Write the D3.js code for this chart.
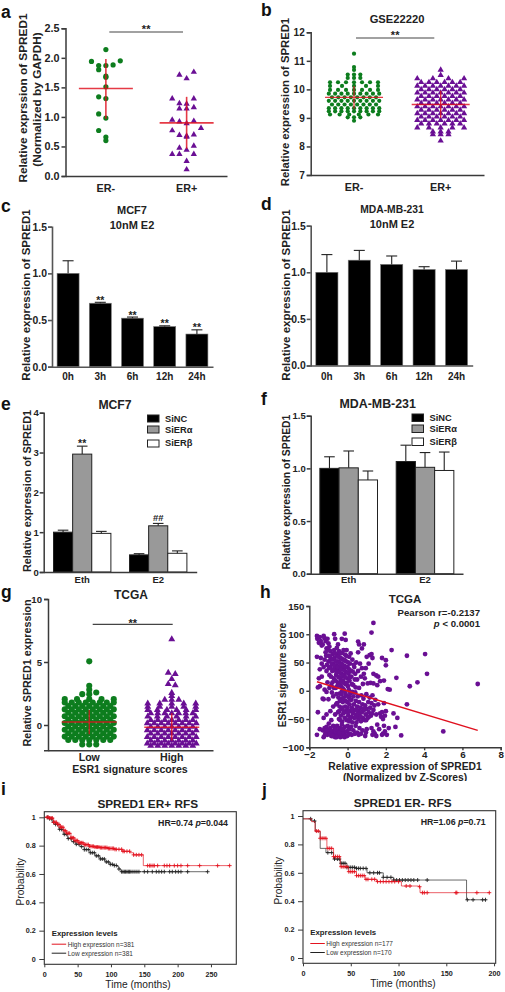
<!DOCTYPE html>
<html><head><meta charset="utf-8">
<script src="https://d3js.org/d3.v7.min.js"></script>
<style>html,body{margin:0;padding:0;background:#fff}svg{display:block}</style>
</head><body>
<svg id="c" width="505" height="992"></svg>
<script>
// ---------- data ----------
const erGroups = ["ER-", "ER+"];
const aNeg = [2.14,1.95,1.94,1.88,1.87,1.87,1.80,1.69,1.67,1.51,1.34,1.31,1.05,0.98,0.77,0.66,0.60];
const aPos = [1.76,1.71,1.65,1.31,1.31,1.23,1.22,1.16,1.14,1.14,0.95,0.93,0.92,0.89,0.81,0.77,0.70,0.69,0.68,0.66,0.51,0.475,0.44,0.37,0.37,0.37,0.25,0.11];
const aStats = [[1.48,0.97,1.98],[0.90,0.46,1.34]];
const bNegRows = [11.25,10.78,10.68,10.52,10.4,10.25,10.12,9.98,9.85,9.72,9.6,9.47,9.34,9.23,9.12,9.02,8.9];
const bNegCounts = [1,1,1,3,3,7,5,7,9,8,9,8,9,9,6,3,1];
const bPosRows = [10.68,10.5,10.38,10.25,10.12,10,9.88,9.76,9.64,9.52,9.4,9.28,9.16,9.04,8.92,8.8,8.66,8.52,8.42,8.2];
const bPosCounts = [1,1,4,6,7,6,7,6,7,6,7,6,7,6,7,6,5,3,3,1];
const bStats = [[9.72,9.32,10.12],[9.47,9.0,9.95]];
const hours = ["0h","3h","6h","12h","24h"];
const cValues = [1.0,0.68,0.52,0.43,0.35];
const cErrors = [0.135,0.01,0.012,0.008,0.045];
const cStars = ["","**","**","**","**"];
const dValues = [1.0,1.13,1.085,1.03,1.03];
const dErrors = [0.19,0.105,0.09,0.03,0.09];
const treatments = ["Eth","E2"];
const siSeries = ["SiNC","SiERα","SiERβ"];
const eValues = [[1.0,2.96,0.97],[0.43,1.16,0.47]];
const eErrors = [[0.05,0.2,0.05],[0.03,0.06,0.06]];
const fValues = [[1.0,1.005,0.89],[1.065,1.01,0.98]];
const fErrors = [[0.11,0.16,0.085],[0.155,0.14,0.175]];
const gGroups = ["Low","High"];
const gLowRows = [5.05,3.12,2.8,2.58,2.45,2.05,1.78,1.51,1.24,0.97,0.7,0.43,0.16,-0.11,-0.38,-0.65,-0.92,-1.19,-1.55];
const gLowCounts = [1,1,1,1,2,5,8,7,8,7,8,7,8,7,8,7,8,7,3];
const gHighRows = [6.8,4.15,4.05,3.65,3.25,3.15,2.55,2.3,2.0,1.7,1.45,1.2,0.94,0.67,0.4,0.13,-0.14,-0.41,-0.68,-0.95,-1.22,-1.46,-1.65];
const gHighCounts = [1,1,1,1,1,1,1,1,3,5,5,6,7,6,7,8,7,8,7,8,7,8,7];
const gStats = [[0.24,-0.74,1.2],[-0.18,-1.24,0.93]];
const hPoints = [[1.35,120],[1.25,103],[2.3,72],[3.1,62],[4.05,65],[4.15,30],[3.65,15],[3.25,8],[2.55,23],[6.8,12],[5.0,-72],[3.1,-24],[2.8,-79],[2.5,-64],[2.6,-48],[2.4,-40],[2.2,2],[2.1,3],[1.8,58],[2.0,54],[2.0,45],[1.9,18],[1.7,17],
[-1.6,97],[-1.58,92],[-1.5,85],[-1.45,95],[-1.4,88],[-1.35,80],[-1.3,82],[-1.25,97],[-1.2,93],[-1.15,88],[-1.1,75],[-1.05,92],[-1.0,84],[-0.95,78],[-0.9,70],[-0.7,100],[-0.65,92],[-0.5,82],[-0.3,92],[-0.15,101],[-0.1,90],[0.55,87],[0.6,82],[0.75,75],[0.85,82],[0.55,68],[1.0,60],[1.15,63],[1.25,65],[1.3,58],[1.1,48],[0.95,40],[1.35,30],[1.5,27],[1.6,25],[1.55,10],[1.2,14],[1.35,13],[1.05,13],
[-1.6,60],[-1.4,58],[-1.35,48],[-1.45,38],[-1.5,22],[-1.45,8],[-1.55,6],[-1.35,25],[-1.25,42],[-1.2,55],[-1.15,68],[-1.1,35],[-1.05,15],[-1.0,52],[-0.98,62],[-0.95,28],[-0.9,42],[-0.88,55],[-0.85,10],[-0.82,-3],[-0.8,35],[-0.78,65],[-0.75,48],[-0.72,22],[-0.7,72],[-0.68,58],[-0.65,38],[-0.62,5],[-0.6,28],[-0.58,45],[-0.55,64],[-0.52,15],[-0.5,52],[-0.48,35],[-0.45,70],[-0.42,-5],[-0.4,42],[-0.38,22],[-0.36,58],[-0.34,8],[-0.32,30],[-0.3,48],[-0.28,67],[-0.26,38],[-0.24,18],[-0.22,55],[-0.2,2],[-0.18,28],[-0.16,44],[-0.14,64],[-0.12,12],[-0.1,34],[-0.08,52],[-0.05,72],[-0.02,22],[0.0,42],[0.02,8],[0.05,30],[0.08,60],[0.1,18],[0.12,48],[0.15,-3],[0.18,35],[0.2,25],[0.25,55],[0.3,10],[0.35,42],[0.4,30],[0.45,50],[0.5,20],[0.55,35],[0.6,5],[0.65,48],[0.7,25],[0.75,40],[0.8,12],[0.85,30],[0.9,22],[-0.95,5],[-1.1,-2],[-1.2,2],[-1.0,-15],[-0.75,-10],[-1.25,-15],[-1.3,-14],
[-1.12,62],[-1.08,46],[-1.02,72],[-0.97,40],[-0.92,60],[-0.87,25],[-0.83,48],[-0.79,15],[-0.76,56],[-0.74,38],[-0.71,5],[-0.69,44],[-0.66,66],[-0.63,18],[-0.61,52],[-0.59,34],[-0.56,76],[-0.54,8],[-0.51,42],[-0.49,60],[-0.47,24],[-0.44,50],[-0.43,12],[-0.41,32],[-0.39,66],[-0.37,46],[-0.35,16],[-0.33,38],[-0.31,-2],[-0.29,56],[-0.27,26],[-0.25,4],[-0.23,44],[-0.21,72],[-0.19,14],[-0.17,36],[-0.15,54],[-0.13,24],[-0.11,-4],[-0.09,42],[-0.07,62],[-0.04,14],[-0.01,32],[0.03,50],[0.06,2],[0.09,38],[0.13,24],[0.16,66],[0.22,12],[0.27,34],[0.32,46],[0.38,20],[0.42,6],[-0.58,-6],[-0.3,-14],[-0.12,-18],[0.07,-10],[0.24,-2],
[-0.55,-22],[-0.5,-38],[-0.48,-12],[-0.45,-50],[-0.42,-28],[-0.4,-18],[-0.35,-44],[-0.32,-6],[-0.3,-32],[-0.28,-55],[-0.25,-20],[-0.22,-40],[-0.2,-12],[-0.15,-48],[-0.12,-28],[-0.1,-36],[-0.08,-8],[-0.05,-52],[-0.02,-20],[0.0,-30],[0.03,-44],[0.05,-12],[0.08,-54],[0.1,-24],[0.12,-36],[0.15,-5],[0.18,-46],[0.2,-16],[0.22,-30],[0.25,-56],[0.28,-40],[0.3,-10],[0.33,-24],[0.35,-48],[0.38,-34],[0.4,-3],[0.43,-18],[0.46,-56],[0.48,-42],[0.5,-28],[0.53,-10],[0.56,-50],[0.58,-36],[0.6,-20],[0.63,-44],[0.66,-30],[0.7,-54],[0.72,-8],[0.75,-38],[0.78,-24],[0.8,-48],[0.83,-14],[0.86,-34],[0.9,-52],[0.92,-26],[0.95,-42],[0.98,-6],[1.0,-32],[1.05,-48],[1.08,-20],[1.1,-38],[1.15,-12],[1.18,-30],[1.22,-44],[1.25,-22],[1.3,-8],[1.35,-34],[1.4,-26],[1.45,-16],[1.5,-42],[1.6,-24],[1.7,-40],[1.75,-46],[1.8,-38],[1.85,-50],[1.9,-22],[1.95,-44],[2.0,-36],[-1.55,-38],[-1.25,-48],[-1.1,-42],[-0.9,-36],[-0.85,-52],[-0.75,-28],[-0.65,-42],[-0.6,-24],[-0.38,-52],[-0.18,-38],[0.02,-38],[0.13,-50],[0.27,-34],[0.42,-46],[0.55,-42],[0.68,-46],[0.82,-32],[0.97,-52],[1.12,-46],[1.28,-40],[0.45,-34],[0.14,-16],[-0.27,-30],[-0.44,-36],
[-1.6,-78],[-1.45,-68],[-1.3,-70],[-1.25,-82],[-1.2,-66],[-1.15,-74],[-1.1,-64],[-1.05,-78],[-1.0,-70],[-0.98,-58],[-0.95,-74],[-0.9,-66],[-0.85,-80],[-0.8,-72],[-0.75,-62],[-0.72,-78],[-0.68,-68],[-0.65,-82],[-0.6,-74],[-0.55,-62],[-0.52,-80],[-0.48,-70],[-0.45,-78],[-0.4,-66],[-0.38,-82],[-0.34,-74],[-0.3,-60],[-0.26,-80],[-0.22,-70],[-0.18,-76],[-0.14,-64],[-0.1,-80],[-0.05,-72],[0.0,-62],[0.04,-78],[0.08,-68],[0.12,-76],[0.18,-64],[0.22,-78],[0.3,-70],[0.38,-76],[0.42,-62],[0.5,-74],[0.58,-78],[0.62,-66],[0.7,-76],[0.78,-70],[0.92,-80],[0.96,-74],[1.0,-68],[1.25,-66],[1.3,-78],[1.35,-72],[1.42,-76],[1.5,-80],[1.55,-60],[1.65,-68],[1.8,-78],[1.85,-76],[1.95,-72],[2.05,-78],[2.15,-66],[1.9,-62],[-1.18,-78],[-1.08,-70],[-0.92,-76],[-0.78,-80],[-0.62,-68],[-0.58,-82],[-0.42,-74],[-0.28,-68],[-0.16,-82],[-0.02,-80]];
const hLine = [[-1.6,16],[6.8,-70]];
const iHigh = [[0,1],[8,0.995],[14,0.965],[18.5,0.95],[24,0.93],[29,0.905],[33.5,0.887],[40,0.855],[46,0.835],[52,0.82],[58.5,0.807],[68,0.795],[76,0.79],[83.5,0.786],[95,0.78],[106,0.774],[118,0.76],[128.5,0.75],[134,0.735],[146,0.735],[148.5,0.659],[278,0.659]];
const iLow = [[0,1],[7,0.99],[12,0.965],[16,0.95],[22,0.915],[28.5,0.88],[35,0.85],[41,0.828],[47,0.81],[53.5,0.793],[60,0.772],[68.5,0.75],[76,0.728],[83.5,0.706],[91,0.685],[98.5,0.668],[105,0.66],[109.5,0.652],[112,0.635],[115,0.616],[245,0.616]];
const iHighCensor = [4,6,8,10,12,14,16,18,20,22,24,26,28,30,32,34,36,38,40,42,44,46,48,50,52,54,56,58,60,62,64,66,68,70,72,74,76,78,80,82,84,86,88,90,92,94,96,98,100,102,104,106,108,112,116,118,120,124,128,134,138,142,146,155,158,160,163,165,170,180,184,188,195,200,205,215,233,260,278];
const iLowCensor = [5,8,11,14,17,20,23,26,30,33,36,40,44,48,52,56,60,63,66,69,72,75,78,81,84,87,90,93,96,99,102,105,108,112,116,118,120,122,124,126,128,130,133,136,139,142,150,155,162,168,172,176,180,188,192,197,201,205,215,245];
const jHigh = [[0,0.98],[9,0.96],[12.5,0.894],[18,0.843],[25,0.772],[32,0.714],[39,0.643],[47.5,0.608],[56,0.58],[65,0.554],[77,0.538],[98,0.538],[103,0.507],[121,0.502],[122.5,0.46],[195,0.46]];
const jLow = [[0,0.98],[9,0.965],[13,0.89],[18,0.772],[24,0.742],[32,0.697],[39,0.667],[46,0.638],[56,0.631],[67,0.6],[84,0.568],[95,0.549],[171,0.549],[171.2,0.41],[192,0.41]];
const jHighCensor = [14,16,18,20,22,24,26,28,30,32,34,36,38,40,42,44,46,48,50,52,54,56,58,60,62,64,66,68,72,75,78,81,84,87,90,93,96,100,108,112,122,125,127,130,160,161,182,195];
const jLowCensor = [8,12,26,30,33,36,38,40,42,44,46,48,50,52,54,56,58,60,63,66,70,74,78,80,84,88,92,95,98,101,104,107,110,113,116,120,130,172,178,188,191];

// ---------- helpers ----------
const FONT = '"Liberation Sans", Arial, sans-serif';
const INK = "#222", AXIS = "#3a3a3a", GREEN = "#0d7d1e", PURPLE = "#6a0f94", RED = "#e0101e";
const svg = d3.select("#c");
svg.append("rect").attr("width",505).attr("height",992).attr("fill","#fff");

function txt(x,y,s,o={}){
  const t = svg.append("text").attr("x",x).attr("y",y).text(s)
    .attr("font-family",FONT).attr("font-size",o.size||11.5)
    .attr("font-weight",o.weight||"bold").attr("fill",o.fill||INK)
    .attr("text-anchor",o.anchor||"middle");
  if(o.rot) t.attr("transform",`rotate(${o.rot} ${x} ${y})`);
  return t;
}
function styleAxis(g,size,w,col){
  g.selectAll("text").attr("font-family",FONT).attr("font-size",size).attr("font-weight","bold").attr("fill",INK);
  g.selectAll("path.domain,line").attr("stroke",col||AXIS).attr("stroke-width",w||1.5);
}
function yAx(scale,x,ticks,fmt,size,o={}){
  const g = svg.append("g").attr("transform",`translate(${x},0)`)
    .call(d3.axisLeft(scale).tickValues(ticks).tickFormat(fmt).tickSizeOuter(0).tickSize(o.tick||4).tickPadding(o.pad||2));
  styleAxis(g,size,o.w,o.col); return g;
}
function xAx(scale,y,pad,size,o={}){
  const a = d3.axisBottom(scale).tickSizeOuter(0).tickSize(o.tick||0).tickPadding(pad);
  if(o.ticks) a.tickValues(o.ticks);
  if(o.fmt) a.tickFormat(o.fmt);
  const g = svg.append("g").attr("transform",`translate(0,${y})`).call(a);
  styleAxis(g,size,o.w,o.col); return g;
}
function expand(rows,counts){ return rows.flatMap((v,i)=>d3.range(counts[i]).map(()=>v)); }
// Prism-like column scatter: close values share a row, spreading out from the centre.
// Near-full rows stay on the column lattice; sparser rows spread over the full width.
function swarm(values,gap,step,centered,halfWidth){
  const sorted = values.slice().sort(d3.descending), groups=[];
  sorted.forEach(v=>{
    const g = groups[groups.length-1];
    if(g && g[0]-v<=gap) g.push(v); else groups.push([v]);
  });
  const out=[];
  groups.forEach(g=>{
    const n=g.length, asc = g.slice().reverse(), shift = centered && n%2===0 ? 0.5 : 0;
    const sparse = halfWidth && n>=4 && (n-1)*step < 2*halfWidth-step-0.01;
    const unit = sparse ? 2*halfWidth/(n-1) : step;
    asc.forEach((v,i)=>{
      const slot = i===0?0:(i%2? -(i+1)/2 : i/2);
      out.push({v,off:(slot+shift)*unit});
    });
  });
  return out;
}
function dots(y,pts,center,shape,col,size){
  const g = svg.append("g").attr("fill",col);
  if(shape==="circle"){
    g.selectAll("circle").data(pts).join("circle")
      .attr("cx",d=>center+d.off).attr("cy",d=>y(d.v)).attr("r",size);
  } else {
    const sym = d3.symbol(d3.symbolTriangle,size);
    g.selectAll("path").data(pts).join("path").attr("d",sym)
      .attr("transform",d=>`translate(${center+d.off},${y(d.v)})`);
  }
}
function meanSd(y,center,half,st,w){
  const g = svg.append("g").attr("stroke",RED).attr("stroke-width",w).attr("opacity",0.82).attr("fill","none");
  g.append("line").attr("x1",center-half).attr("x2",center+half).attr("y1",y(st[0])).attr("y2",y(st[0]));
  g.append("line").attr("x1",center).attr("x2",center).attr("y1",y(st[1])).attr("y2",y(st[2]));
}
function sig(x1,x2,y,starY){
  svg.append("line").attr("x1",x1).attr("x2",x2).attr("y1",y).attr("y2",y).attr("stroke","#444").attr("stroke-width",1.2);
  txt((x1+x2)/2,starY,"**",{size:11});
}
function ebar(x,y0,y1,cap){
  const g = svg.append("g").attr("stroke","#222").attr("stroke-width",1.1);
  g.append("line").attr("x1",x).attr("x2",x).attr("y1",y0).attr("y2",y1);
  g.append("line").attr("x1",x-cap).attr("x2",x+cap).attr("y1",y1).attr("y2",y1);
}
const f1 = d3.format(".1f"), f0 = d3.format("d");

// panel letters
[["a",1,18],["b",261,15.5],["c",1,212.3],["d",261,210],["e",1,410],["f",261,405],["g",1,598],["h",260,598],["i",1,795],["j",262,796]]
  .forEach(([s,x,y])=>txt(x,y,s,{size:17.5,anchor:"start",fill:"#111"}));

// ---------- a ----------
{
  const y = d3.scaleLinear().domain([0,2.5]).range([176,28.3]);
  const x = d3.scaleBand().domain(erGroups).range([65.5,227]);
  const cx = k=>x(k)+x.bandwidth()/2;
  dots(y,swarm(aNeg,0.13,7.2,false),cx("ER-"),"circle",GREEN,2.6);
  dots(y,swarm(aPos,0.13,7.2,false),cx("ER+"),"tri",PURPLE,17);
  meanSd(y,cx("ER-"),27,aStats[0],1.6); meanSd(y,cx("ER+"),27,aStats[1],1.6);
  yAx(y,65.5,[0,.5,1,1.5,2,2.5],f1,10.8);
  xAx(x,176,8.3,10.8);
  sig(109.3,183,32,33);
  txt(27,98,"Relative exprssion of SPRED1",{size:11.8,rot:-90});
  txt(41,99.5,"(Normalized by GAPDH)",{size:11.8,rot:-90});
}
// ---------- b ----------
{
  const y = d3.scaleLinear().domain([7,12]).range([175,32.3]);
  const x = d3.scaleBand().domain(erGroups).range([310.7,484]);
  const cx = k=>x(k)+x.bandwidth()/2;
  dots(y,swarm(expand(bNegRows,bNegCounts),0.05,6.3,true,24),cx("ER-"),"circle",GREEN,2.1);
  dots(y,swarm(expand(bPosRows,bPosCounts),0.05,7.8,true,23.4),cx("ER+"),"tri",PURPLE,17);
  meanSd(y,cx("ER-"),29,bStats[0],1.2); meanSd(y,cx("ER+"),29,bStats[1],1.4);
  yAx(y,310.7,[7,8,9,10,11,12],f0,10);
  xAx(x,175,8.3,10.8);
  sig(356,434.3,38,39);
  txt(397,23,"GSE22220",{size:11.2});
  txt(288.5,102,"Relative expression of SPRED1",{size:11.3,rot:-90});
}
// ---------- c, d ----------
function barPanel(o){
  const y = d3.scaleLinear().domain([0,1.5]).range([o.y0,o.y15]);
  const x = d3.scaleBand().domain(hours).range([o.x0,o.x1]).paddingInner(0.317).paddingOuter(0.158);
  svg.append("g").selectAll("rect").data(o.values).join("rect")
    .attr("x",(d,i)=>x(hours[i])).attr("width",x.bandwidth()).attr("y",d=>y(d)).attr("height",d=>o.y0-y(d))
    .attr("fill","#000").attr("stroke","#777").attr("stroke-width",0.6);
  o.values.forEach((v,i)=>{
    const cx = x(hours[i])+x.bandwidth()/2;
    ebar(cx,y(v),y(v+o.errors[i]),5.5);
    if(o.stars && o.stars[i]) txt(cx,y(v+o.errors[i])+1.5,o.stars[i],{size:10.5});
  });
  yAx(y,o.x0,[0,.5,1,1.5],f1,10.4,{w:1.6,col:"#555",pad:1});
  xAx(x,o.y0,o.xPad,10,{w:1.6,col:"#555"});
}
barPanel({x0:52,x1:213,y0:366.7,y15:226.7,xPad:6.2,values:cValues,errors:cErrors,stars:cStars});
txt(132,214,"MCF7",{size:11}); txt(132,229,"10nM E2",{size:11});
txt(29.5,295,"Relative expression of SPRED1",{size:11.5,rot:-90});
barPanel({x0:310.7,x1:472.7,y0:365.5,y15:225.7,xPad:7.4,values:dValues,errors:dErrors});
txt(392,213,"MDA-MB-231",{size:10.3}); txt(392,228,"10nM E2",{size:11});
txt(290,295,"Relative expression of SPRED1",{size:11.5,rot:-90});
// ---------- e, f ----------
const siFill = ["#000","#999","#fff"];
function groupPanel(o){
  const y = d3.scaleLinear().domain([0,o.max]).range([o.y0,o.yMax]);
  const x0 = d3.scaleBand().domain(treatments).range([o.x0,o.x1]).paddingInner(0.245).paddingOuter(o.po);
  const x1 = d3.scaleBand().domain(siSeries).range([0,x0.bandwidth()]);
  treatments.forEach((t,ti)=>{
    siSeries.forEach((s,si)=>{
      const v=o.values[ti][si], e=o.errors[ti][si], bx=x0(t)+x1(s);
      svg.append("rect").attr("x",bx).attr("width",x1.bandwidth()).attr("y",y(v)).attr("height",o.y0-y(v))
        .attr("fill",siFill[si]).attr("stroke","#222").attr("stroke-width",1);
      ebar(bx+x1.bandwidth()/2,y(v),y(v+e),5.3);
    });
  });
  yAx(y,o.x0,o.ticks,o.fmt,o.size,{pad:1});
  xAx(x0,o.y0,o.xPad,9.5);
  siSeries.forEach((s,i)=>{
    svg.append("rect").attr("x",o.legX).attr("y",o.legY[i]).attr("width",o.legW).attr("height",o.legH)
      .attr("fill",siFill[i]).attr("stroke","#222").attr("stroke-width",1);
    txt(o.legX+o.legW+(o.legGap),o.legT[i],s,{size:9.3,anchor:"start"});
  });
  return {x0,x1,y};
}
{
  const {x0,x1,y} = groupPanel({x0:43.7,x1:196.7,y0:572,yMax:412.7,max:4,po:0.129,values:eValues,errors:eErrors,ticks:[0,1,2,3,4],fmt:f0,size:9.5,xPad:3.8,
    legX:147.5,legW:11.5,legH:7,legY:[415,426,440],legT:[421.7,432.7,446],legGap:6});
  txt(x0("Eth")+x1("SiERα")+x1.bandwidth()/2,y(eValues[0][1]+eErrors[0][1])+1,"**",{size:10.5});
  txt(x0("E2")+x1("SiERα")+x1.bandwidth()/2,y(eValues[1][1]+eErrors[1][1])-2.5,"##",{size:9.5});
  txt(115,409,"MCF7",{size:12.2});
  txt(30.7,491,"Relative expression of SPRED1",{size:10.9,rot:-90});
}
{
  groupPanel({x0:310.7,x1:463,y0:573.7,yMax:415.7,max:1.5,po:0.12,values:fValues,errors:fErrors,ticks:[0,.5,1,1.5],fmt:f1,size:9.5,xPad:2.6,
    legX:412,legW:11.5,legH:7.5,legY:[414,425,438],legT:[421,432,445],legGap:6});
  txt(377.7,408,"MDA-MB-231",{size:12.4});
  txt(290,492,"Relative expression of SPRED1",{size:10.4,rot:-90});
}
// ---------- g ----------
{
  const y = d3.scaleLinear().domain([-2,10]).range([750.2,599]);
  const x = d3.scaleBand().domain(gGroups).range([48,213]);
  const cx = k=>x(k)+x.bandwidth()/2;
  dots(y,swarm(expand(gLowRows,gLowCounts),0.15,7,true,24.5),cx("Low"),"circle",GREEN,3.05);
  dots(y,swarm(expand(gHighRows,gHighCounts),0.15,7,true,24),cx("High"),"tri",PURPLE,21);
  meanSd(y,cx("Low"),27.5,gStats[0],1.3); meanSd(y,cx("High"),27.5,gStats[1],1.5);
  yAx(y,48,[0,5,10],f0,9.6);
  xAx(x,750.2,3.3,10.6);
  sig(92.7,172.7,624.3,627);
  txt(131,599,"TCGA",{size:12});
  txt(30.5,673,"Relative SPRED1 expression",{size:10.75,rot:-90});
  txt(130,773,"ESR1 signature scores",{size:10.6});
}
// ---------- h ----------
{
  const x = d3.scaleLinear().domain([-2,8]).range([309.3,500.7]);
  const y = d3.scaleLinear().domain([-100,150]).range([747.3,606]);
  svg.append("g").attr("fill",PURPLE).selectAll("circle").data(hPoints).join("circle")
    .attr("cx",d=>x(d[0])).attr("cy",d=>y(d[1])).attr("r",2.4);
  svg.append("line").attr("x1",x(hLine[0][0])).attr("y1",y(hLine[0][1])).attr("x2",x(hLine[1][0])).attr("y2",y(hLine[1][1]))
    .attr("stroke",RED).attr("stroke-width",1.5);
  yAx(y,309.3,[-100,-50,0,50,100,150],f0,9.6,{w:1.4,tick:3});
  xAx(x,747.3,0.8,9.8,{ticks:[-2,0,2,4,6,8],fmt:f0,tick:3,w:1.4});
  txt(405,603,"TCGA",{size:11.5});
  txt(480,615.7,"Pearson r=-0.2137",{size:9.6,anchor:"end"});
  const p = txt(480,626.7,"",{size:9.6,anchor:"end"});
  p.append("tspan").attr("font-style","italic").text("p");
  p.append("tspan").text(" < 0.0001");
  txt(286,675,"ESR1 signature score",{size:10.1,rot:-90});
  txt(405,770.3,"Relative expression of SPRED1",{size:10.3});
  txt(405,781,"(Normalized by Z-Scores)",{size:10.3});
  svg.append("rect").attr("x",300).attr("y",781).attr("width",205).attr("height",5).attr("fill","#fff");
}
// ---------- i, j ----------
function kmPanel(o){
  const x = d3.scaleLinear().domain([0,o.xMax]).range([o.left,o.right]);
  const y = d3.scaleLinear().domain([0,1]).range([o.y0,o.y1]);
  const line = d3.line().x(d=>x(d[0])).y(d=>y(d[1])).curve(d3.curveStepAfter);
  const draw = (curve,cens,col)=>{
    svg.append("path").attr("d",line(curve)).attr("fill","none").attr("stroke",col).attr("stroke-width",0.9).attr("opacity",0.75);
    const at = t=>{ const i=d3.bisectRight(curve.map(d=>d[0]),t)-1; return curve[Math.max(i,0)][1]; };
    svg.append("g").attr("stroke",col).attr("stroke-width",0.9).selectAll("path").data(cens).join("path")
      .attr("d","M-2,0H2M0,-2V2").attr("transform",t=>`translate(${x(t)},${y(at(t))})`);
  };
  draw(o.low,o.lowC,"#222");
  draw(o.high,o.highC,"#e3131f");
  svg.append("rect").attr("x",o.left).attr("y",o.top).attr("width",o.right-o.left).attr("height",o.bottom-o.top)
    .attr("fill","none").attr("stroke","#333").attr("stroke-width",1.1);
  const gy = svg.append("g").attr("transform",`translate(${o.left},0)`)
    .call(d3.axisLeft(y).tickValues([0,.2,.4,.6,.8,1]).tickFormat(d=>d===0||d===1?d:d.toFixed(1)).tickSize(5).tickPadding(3.5));
  gy.select(".domain").remove(); styleAxis(gy,7.2,1);
  const gx = svg.append("g").attr("transform",`translate(0,${o.bottom})`)
    .call(d3.axisBottom(x).tickValues(o.ticks).tickFormat(f0).tickSize(3).tickPadding(4.4));
  gx.select(".domain").remove(); styleAxis(gx,7.2,1);
  txt(o.titleX,o.titleY,o.title,{size:11.8});
  const hr = txt(o.hrX,o.hrY,"",{size:8.8,anchor:"end"});
  hr.append("tspan").text(o.hr);
  hr.append("tspan").attr("font-style","italic").text(" p");
  hr.append("tspan").text(o.pv);
  txt(o.legX,o.legY,"Expression levels",{size:7.8,anchor:"start"});
  [["#e3131f",o.legHigh],["#222",o.legLow]].forEach(([c,s],i)=>{
    const ly=o.legY+8.5+i*9;
    svg.append("line").attr("x1",o.legX).attr("x2",o.legX+14.5).attr("y1",ly).attr("y2",ly).attr("stroke",c).attr("stroke-width",1);
    txt(o.legX+16,ly+2.5,s,{size:6.5,weight:"normal",anchor:"start",fill:"#333"});
  });
  txt(o.xTitleX,o.xTitleY,"Time (months)",{size:10.2,weight:"normal"});
  txt(o.left-20.5,o.probY,"Probability",{size:10.2,weight:"normal",rot:-90});
}
kmPanel({left:44.3,right:236.3,top:811.7,bottom:964.3,xMax:288,y0:959,y1:817.3,ticks:[0,50,100,150,200,250],
  high:iHigh,low:iLow,highC:iHighCensor,lowC:iLowCensor,title:"SPRED1 ER+ RFS",titleX:147.7,titleY:807.7,
  hr:"HR=0.74",pv:"=0.044",hrX:228,hrY:826,legX:51.7,legY:935.7,legHigh:"High expression n=381",legLow:"Low expression n=381",xTitleX:138,xTitleY:988,probY:881.7});
kmPanel({left:303,right:495.7,top:810.7,bottom:963.3,xMax:201.7,y0:958,y1:816,ticks:[0,50,100,150,200],
  high:jHigh,low:jLow,highC:jHighCensor,lowC:jLowCensor,title:"SPRED1 ER- RFS",titleX:402.7,titleY:806.7,
  hr:"HR=1.06",pv:"=0.71",hrX:485.7,hrY:825,legX:310.3,legY:935,legHigh:"High expression n=177",legLow:"Low expression n=170",xTitleX:403,xTitleY:987,probY:880.7});
</script>
</body></html>
